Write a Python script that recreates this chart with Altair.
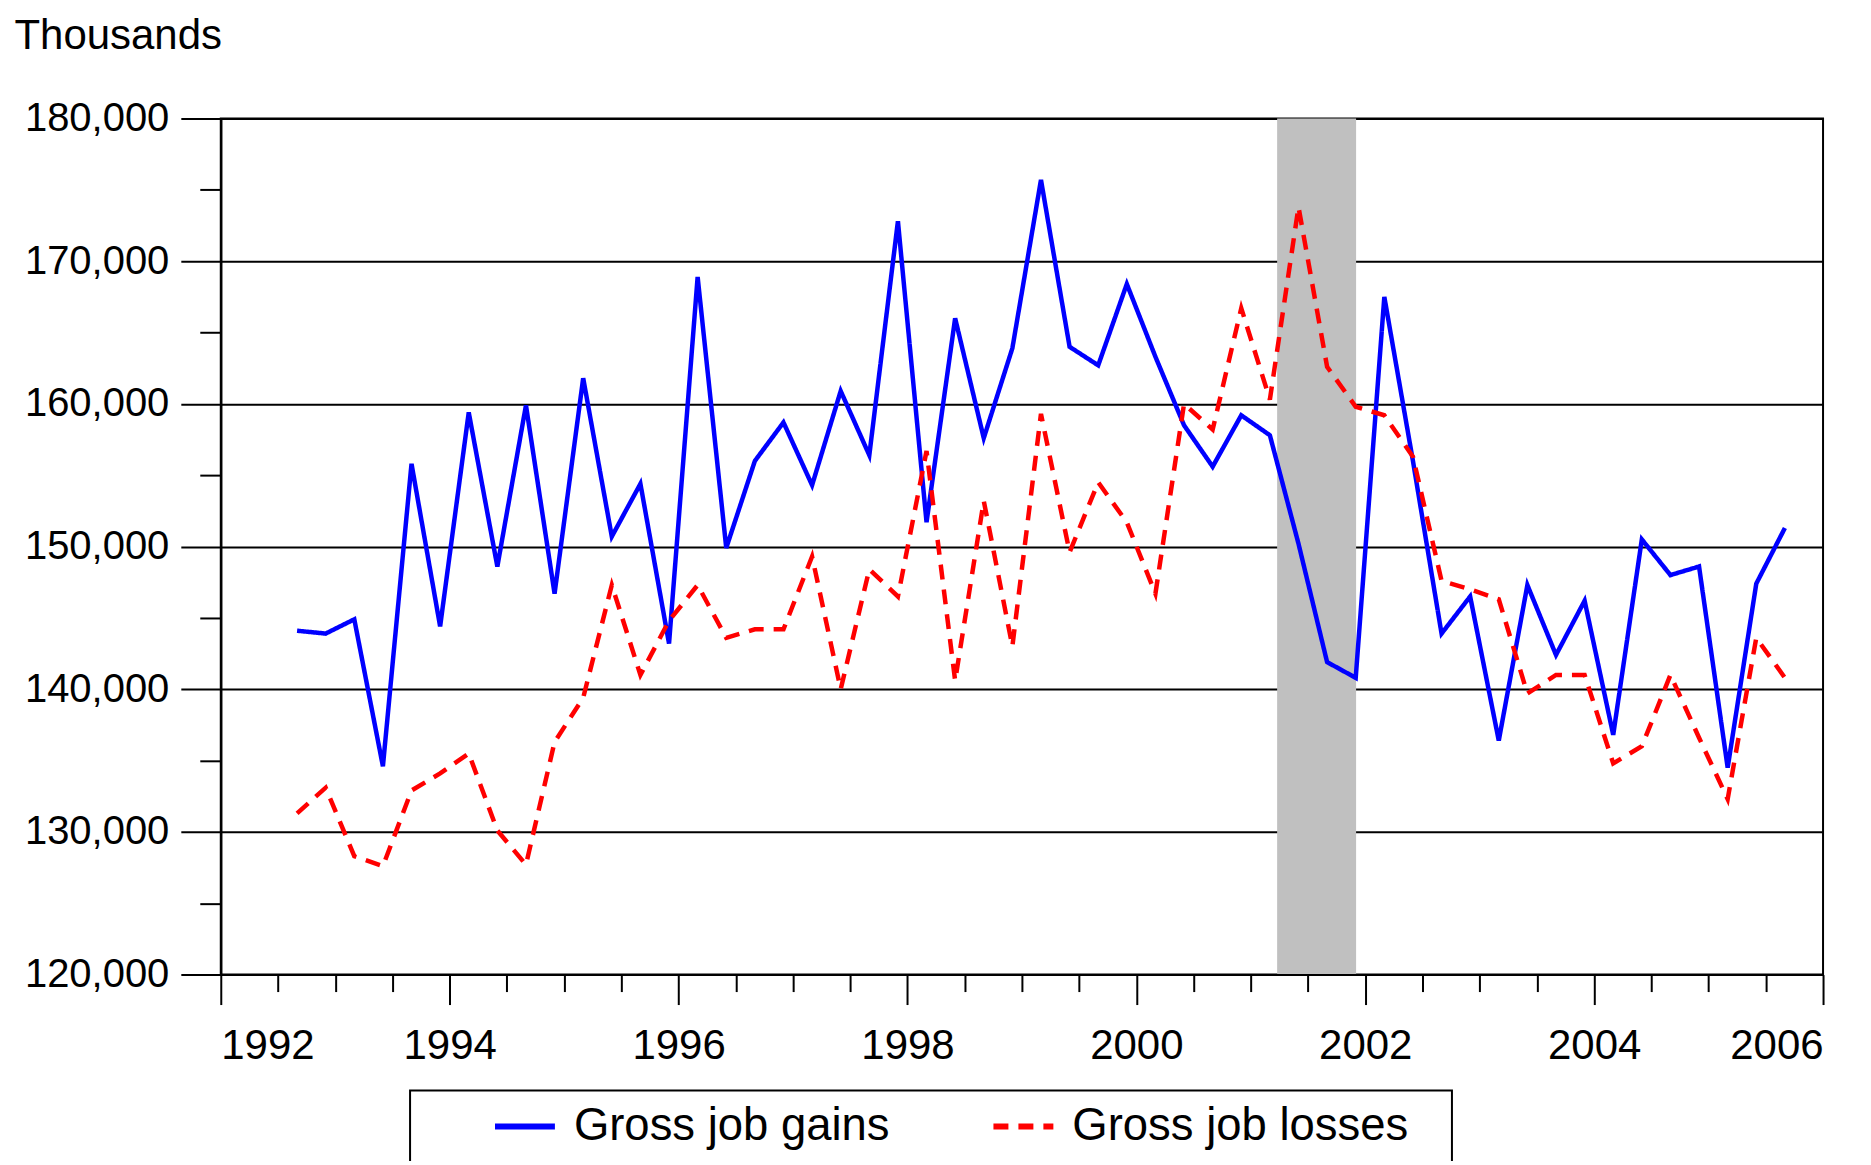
import altair as alt
import pandas as pd

# ---------------- data (thousands of jobs, quarterly 1992Q3 - 2005Q3) ----------------
FIRST_YEAR = 1992
FIRST_QUARTER = 3

GAINS = [
    144100, 143900,
    144900, 134600, 155800, 144400,
    159400, 148600, 159900, 146700,
    161800, 150700, 154400, 143200,
    168900, 149900, 156000, 158700,
    154300, 160900, 156400, 172800,
    151700, 166000, 157600, 163900,
    175700, 164000, 162700, 168400,
    163300, 158500, 155600, 159200,
    157800, 150200, 141900, 140800,
    167500, 156000, 143900, 146500,
    136400, 147300, 142400, 146200,
    136800, 150500, 148000, 148600,
    134500, 147400, 151300,
]

LOSSES = [
    131300, 133100,
    128300, 127600, 132900, 134100,
    135500, 130100, 127700, 136300,
    139400, 147300, 141000, 144800,
    147300, 143600, 144200, 144200,
    149300, 140000, 148400, 146500,
    156700, 140600, 153200, 143000,
    159300, 149600, 154500, 151700,
    146700, 160000, 158200, 166700,
    160300, 173800, 162600, 159800,
    159200, 156300, 147600, 147000,
    146300, 139700, 141000, 141000,
    134800, 136000, 141000, 136600,
    132300, 143600, 140800,
]

SERIES = ["Gross job gains", "Gross job losses"]
COLORS = ["#0000FF", "#FF0000"]
DASHES = [[1, 0], [15, 10]]

RECESSION_START = 2001.23
RECESSION_END = 2001.92

X_DOMAIN = [1992, 2006]
Y_DOMAIN = [120000, 180000]
X_MAJOR = [1992, 1994, 1996, 1998, 2000, 2002, 2004, 2006]
X_MINOR = [1992.5, 1993, 1993.5, 1994.5, 1995, 1995.5, 1996.5, 1997, 1997.5,
           1998.5, 1999, 1999.5, 2000.5, 2001, 2001.5, 2002.5, 2003, 2003.5,
           2004.5, 2005, 2005.5]
Y_MAJOR = [120000, 130000, 140000, 150000, 160000, 170000, 180000]
Y_MINOR = [125000, 135000, 145000, 155000, 165000, 175000]

FONT = "Liberation Sans"

# quarter labels -> position (middle month of the quarter)
quarters = []
yr, q = FIRST_YEAR, FIRST_QUARTER
for _ in range(len(GAINS)):
    quarters.append((yr, q))
    q += 1
    if q > 4:
        q = 1
        yr += 1

rows = []
for (yr, q), g, l in zip(quarters, GAINS, LOSSES):
    t = yr + (3 * q - 1) / 12.0
    rows.append({"t": t, "quarter": f"{yr}Q{q}", "series": SERIES[0], "value": g})
    rows.append({"t": t, "quarter": f"{yr}Q{q}", "series": SERIES[1], "value": l})
df = pd.DataFrame(rows)

band_df = pd.DataFrame({"start": [RECESSION_START], "end": [RECESSION_END],
                        "lo": [Y_DOMAIN[0]], "hi": [Y_DOMAIN[1]]})

xscale = alt.Scale(domain=X_DOMAIN, nice=False, zero=False)
yscale = alt.Scale(domain=Y_DOMAIN, nice=False, zero=False)

# ---------------- recession band (carries the minor-tick axes) ----------------
band = alt.Chart(band_df).mark_rect(color="#C0C0C0").encode(
    x=alt.X("start:Q", scale=xscale, title="",
            axis=alt.Axis(orient="bottom", values=X_MINOR, labels=False, grid=False,
                          tickSize=17, tickWidth=2, tickColor="black",
                          domain=True, domainColor="black", domainWidth=2, zindex=1)),
    x2="end:Q",
    y=alt.Y("lo:Q", scale=yscale, title="",
            axis=alt.Axis(orient="left", values=Y_MINOR, labels=False, grid=False,
                          tickSize=21, tickWidth=2, tickColor="black",
                          domain=True, domainColor="black", domainWidth=2, zindex=1)),
    y2="hi:Q",
)

legend = alt.Legend(
    orient="none", legendX=189.5, legendY=973,
    direction="horizontal", columns=2,
    title=" ", titleOrient="right", titleFontSize=1, titlePadding=44,
    symbolType="stroke", symbolSize=3600, symbolStrokeWidth=6,
    symbolOffset=82, labelOffset=16, columnPadding=18,
    labelFontSize=45.5, labelFont=FONT, labelColor="black", labelLimit=600,
    padding=0, clipHeight=72, strokeColor="black",
)

lines = alt.Chart(df).mark_line(strokeWidth=4.5, strokeCap="butt", strokeJoin="miter").encode(
    x=alt.X("t:Q", scale=xscale, title="",
            axis=alt.Axis(orient="bottom", values=X_MAJOR, format="d",
                          labelFontSize=42, labelFont=FONT, labelColor="black",
                          labelPadding=21, tickSize=30, tickWidth=2, tickColor="black",
                          grid=False, domain=True, domainColor="black", domainWidth=2)),
    y=alt.Y("value:Q", scale=yscale,
            axis=alt.Axis(orient="left", values=Y_MAJOR, format=",.0f",
                          labelFontSize=40, labelFont=FONT, labelColor="black",
                          labelPadding=12, tickSize=40, tickWidth=2, tickColor="black",
                          grid=True, gridColor="black", gridWidth=2, gridOpacity=1,
                          domain=True, domainColor="black", domainWidth=2,
                          title="Thousands", titleAngle=0, titleAlign="left",
                          titleBaseline="alphabetic", titleX=-207, titleY=-70,
                          titleFontSize=42, titleFont=FONT, titleFontWeight="normal",
                          titleColor="black")),
    color=alt.Color("series:N", scale=alt.Scale(domain=SERIES, range=COLORS), legend=legend),
    strokeDash=alt.StrokeDash("series:N", scale=alt.Scale(domain=SERIES, range=DASHES),
                              legend=legend),
    order=alt.Order("t:Q"),
)

chart = alt.layer(band, lines).resolve_axis(x="independent", y="independent").properties(
    width=1604, height=857,
    autosize=alt.AutoSizeParams(type="none"),
    padding={"left": 213, "top": 110, "right": 40, "bottom": 186},
    background="white",
).configure_view(stroke="black", strokeWidth=2).configure_legend(strokeWidth=2)

chart.save("out.html", embed_options={"renderer": "svg", "actions": False})
